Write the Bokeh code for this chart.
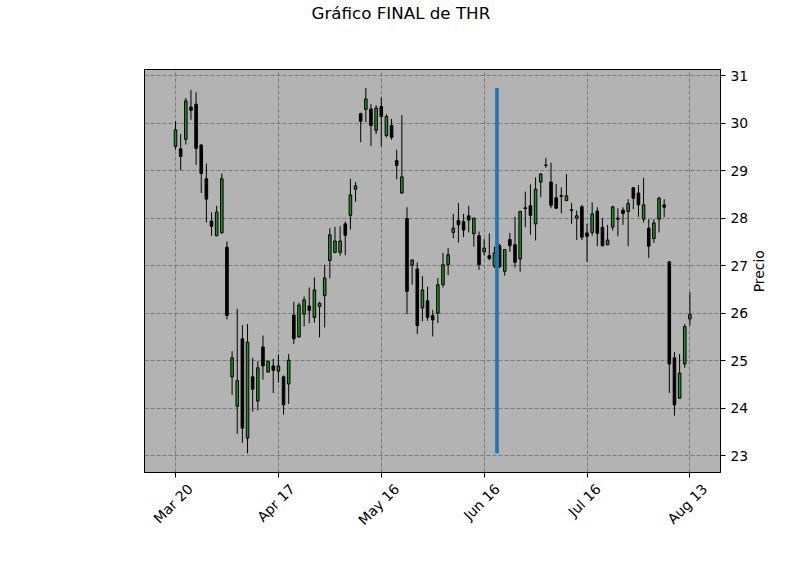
import numpy as np
import pandas as pd
from math import pi
from bokeh.plotting import figure
from bokeh.models import ColumnDataSource, FixedTicker, Range1d, LinearAxis, Title
from bokeh.embed import file_html
from bokeh.resources import INLINE

# ---- data (THR daily candles, 2025) ----
holidays = ["2025-04-18", "2025-05-26", "2025-06-19", "2025-07-04"]
dates = pd.bdate_range("2025-03-20", "2025-08-13", freq="C", holidays=holidays)

opens = [29.51, 29.46, 29.66, 30.34, 30.40, 29.54, 28.83, 27.94, 27.63, 27.69,
         27.39, 24.66, 24.04, 25.46, 23.37, 24.66, 24.15, 25.29, 24.76, 24.89,
         24.78, 24.66, 24.51, 25.96, 25.50, 25.98, 26.15, 25.91, 26.14, 26.37,
         27.11, 27.28, 27.28, 27.88, 28.06, 28.61, 30.20, 30.29, 30.30, 29.85,
         30.35, 29.74, 29.95, 29.21, 28.53, 27.99, 27.01, 26.93, 26.11, 26.26,
         25.95, 26.00, 26.60, 27.02, 27.70, 27.95, 27.93, 28.05, 27.67, 27.63,
         27.29, 27.21, 26.99, 27.42, 26.88, 27.55, 27.44, 27.14, 28.22, 28.26,
         27.88, 28.76, 29.12, 28.76, 28.43, 28.48, 28.37, 28.18, 28.00, 28.24,
         27.69, 27.70, 28.15, 27.81, 27.44, 27.81, 28.00, 28.17, 28.14, 28.64,
         28.53, 27.98, 27.79, 27.57, 27.98, 28.28, 27.08, 25.06, 24.21, 24.93,
         25.88]
highs = [30.04, 29.77, 30.53, 30.70, 30.65, 29.56, 29.15, 28.12, 28.26, 28.94,
         27.51, 25.20, 26.09, 25.75, 25.77, 25.06, 24.99, 25.53, 25.00, 25.04,
         25.13, 24.69, 25.14, 26.24, 26.22, 26.35, 26.54, 26.75, 26.24, 27.02,
         27.79, 27.82, 27.83, 27.93, 28.83, 28.76, 30.22, 30.74, 30.40, 30.38,
         30.54, 30.19, 30.09, 29.44, 30.17, 28.23, 27.13, 27.07, 26.78, 26.56,
         26.07, 26.74, 27.27, 27.37, 28.09, 28.32, 28.09, 28.26, 28.01, 27.72,
         27.56, 27.68, 27.40, 27.46, 27.35, 27.69, 28.03, 28.16, 28.56, 28.71,
         28.86, 28.95, 29.27, 29.17, 28.72, 28.65, 28.93, 28.32, 28.16, 28.28,
         27.88, 28.33, 28.23, 28.00, 27.86, 28.26, 28.21, 28.23, 28.40, 28.65,
         28.70, 28.85, 27.98, 27.98, 28.45, 28.40, 27.09, 25.18, 25.14, 25.77,
         26.44]
lows = [29.44, 29.01, 29.55, 30.07, 29.12, 28.53, 27.91, 27.63, 27.62, 27.68,
        25.87, 24.28, 23.46, 23.27, 23.05, 23.93, 23.95, 24.60, 24.75, 24.32,
        24.54, 23.86, 24.09, 25.35, 25.49, 25.72, 25.79, 25.80, 25.49, 25.70,
        26.73, 27.26, 27.21, 27.22, 27.76, 28.35, 29.60, 30.02, 29.52, 29.77,
        29.51, 29.70, 29.65, 28.82, 28.52, 25.98, 26.60, 25.56, 25.83, 25.84,
        25.51, 25.79, 26.54, 26.80, 27.58, 27.49, 27.60, 27.70, 27.40, 26.91,
        27.22, 27.11, 26.95, 26.95, 26.79, 27.29, 26.96, 26.87, 27.81, 27.65,
        27.53, 28.44, 29.06, 28.21, 28.20, 28.10, 28.36, 27.88, 27.54, 27.54,
        27.08, 27.63, 27.41, 27.41, 27.43, 27.74, 27.62, 27.86, 27.41, 28.19,
        28.03, 27.91, 27.16, 27.48, 27.70, 28.02, 24.32, 23.84, 24.20, 24.85,
        25.74]
closes = [29.86, 29.30, 30.47, 30.27, 29.47, 28.94, 28.40, 27.83, 28.13, 28.83,
          25.95, 25.06, 24.58, 23.58, 25.39, 24.40, 24.85, 24.89, 24.99, 24.80,
          24.89, 24.07, 25.01, 25.46, 26.17, 26.28, 26.06, 26.49, 26.21, 26.74,
          27.65, 27.52, 27.52, 27.64, 28.49, 28.68, 30.04, 30.51, 29.95, 30.32,
          30.14, 30.14, 29.70, 29.11, 28.87, 26.46, 27.12, 25.74, 26.49, 25.91,
          25.86, 26.60, 27.02, 27.23, 27.79, 27.86, 27.75, 27.96, 28.00, 27.02,
          27.37, 27.15, 27.27, 26.98, 27.34, 27.42, 27.07, 28.14, 28.20, 28.06,
          28.61, 28.93, 29.11, 28.27, 28.21, 28.46, 28.47, 28.16, 28.05, 27.60,
          27.62, 28.09, 27.68, 27.42, 27.54, 28.24, 27.98, 28.10, 28.31, 28.42,
          28.28, 28.28, 27.41, 27.90, 28.42, 28.23, 24.93, 24.07, 24.74, 25.72,
          25.97]

tick_positions = [0, 20, 40, 60, 80, 100]
y_ticks = [23, 24, 25, 26, 27, 28, 29, 30, 31]
vline_date = "2025-06-19"

title_text = "Gráfico FINAL de THR"
ylabel_text = "Precio"

# ---- layout constants ----
X0, X1 = -6.03, 105.95
Y0, Y1 = 22.646, 31.13
FRAME_W, FRAME_H = 576, 403
BORDER_L, BORDER_T, BORDER_R, BORDER_B = 144, 69, 72, 95
PX_X = FRAME_W / (X1 - X0)
PX_Y = FRAME_H / (Y1 - Y0)

# ---- derived ----
n = len(opens)
idx = np.arange(n)
o = np.array(opens); h = np.array(highs); l = np.array(lows); c = np.array(closes)
up = c >= o
UP_COLOR = "#1f8f1f"
DOWN_COLOR = "#000000"
src = ColumnDataSource(dict(
    x=idx, o=o, h=h, l=l, c=c,
    top=np.maximum(o, c), bottom=np.minimum(o, c),
    color=[UP_COLOR if u else DOWN_COLOR for u in up],
))

ordinals = np.array([d.toordinal() for d in dates])
vx = float(np.interp(pd.Timestamp(vline_date).toordinal(), ordinals, idx))
tick_labels = [dates[i].strftime("%b %d") for i in tick_positions]

FONT = "DejaVu Sans"
TICK_PX = 13.9

ADV = {'M': 1767, 'a': 1255, 'r': 842, ' ': 651, 'A': 1401, 'p': 1300, 'J': 604,
       'u': 1298, 'n': 1298, 'l': 569, 'g': 1300, 'y': 1212,
       'P': 1235, 'e': 1260, 'c': 1126, 'i': 569, 'o': 1253}
def text_w(s):
    return sum(ADV.get(ch, 1303) for ch in s) / 2048 * TICK_PX

p = figure(width=BORDER_L + FRAME_W + BORDER_R, height=BORDER_T + FRAME_H + BORDER_B,
           output_backend="svg", toolbar_location=None,
           x_range=Range1d(X0, X1), y_range=Range1d(Y0, Y1),
           y_axis_location="right",
           min_border_left=BORDER_L, min_border_top=BORDER_T,
           min_border_right=BORDER_R, min_border_bottom=BORDER_B)

p.background_fill_color = "#b3b3b3"
p.border_fill_color = "white"
p.outline_line_color = "black"
p.outline_line_width = 1
p.title.text = ""

# title near the top of the page (matplotlib suptitle): a blank spacer panel
# next to the frame pushes the real title up
p.add_layout(Title(text=" ", standoff=36, text_font=FONT, text_font_size="8px"), "above")
p.add_layout(Title(text=title_text, align="left", offset=167, vertical_align="bottom",
                   standoff=0, text_font=FONT, text_font_size="16.7px",
                   text_font_style="normal", text_color="black"), "above")

# grid
p.xgrid.ticker = FixedTicker(ticks=tick_positions)
p.ygrid.ticker = FixedTicker(ticks=y_ticks)
for g in (p.xgrid, p.ygrid):
    g.grid_line_color = "#7a7a7a"
    g.grid_line_dash = "4 2"
    g.grid_line_width = 1

# axes (main x axis only carries the tick marks)
p.xaxis.ticker = FixedTicker(ticks=tick_positions)
p.xaxis.major_label_overrides = {int(i): "" for i in tick_positions}
p.xaxis.major_label_standoff = 0
p.yaxis.ticker = FixedTicker(ticks=y_ticks)
for ax in (p.xaxis, p.yaxis):
    ax.axis_line_color = "black"
    ax.major_tick_line_color = "black"
    ax.major_tick_out = 5
    ax.major_tick_in = 0
    ax.minor_tick_line_color = None
    ax.major_label_text_font = FONT
    ax.major_label_text_font_size = f"{TICK_PX}px"
    ax.major_label_text_color = "black"
p.yaxis.major_label_standoff = 5

# y-axis title "Precio": written bottom-to-top, centred on the frame, drawn as
# the single rotated label of an outer right axis
y_mid = (Y0 + Y1) / 2
prec_tick = float(round(y_mid - (text_w(ylabel_text) / 2) / PX_Y, 4))
prec_axis = LinearAxis(ticker=FixedTicker(ticks=[prec_tick]))
prec_axis.major_label_overrides = {prec_tick: ylabel_text}
prec_axis.major_label_orientation = pi / 2
prec_axis.axis_line_color = None
prec_axis.major_tick_line_color = None
prec_axis.major_tick_out = 0
prec_axis.major_tick_in = 0
prec_axis.minor_tick_line_color = None
prec_axis.major_label_standoff = 8
prec_axis.major_label_text_font = FONT
prec_axis.major_label_text_font_size = f"{TICK_PX}px"
prec_axis.major_label_text_color = "black"
p.add_layout(prec_axis, "right")

# second x axis only for the rotated date labels, each label nudged so that
# its rotated box is centred under its tick (matplotlib style)
label_ticks = [float(round(pos + (0.3536 * text_w(lab) - 2.5) / PX_X, 4))
               for pos, lab in zip(tick_positions, tick_labels)]
lab_axis = LinearAxis(ticker=FixedTicker(ticks=label_ticks))
lab_axis.major_label_overrides = {t: lab for t, lab in zip(label_ticks, tick_labels)}
lab_axis.major_label_orientation = pi / 4
lab_axis.axis_line_color = None
lab_axis.major_tick_line_color = None
lab_axis.major_tick_out = 0
lab_axis.major_tick_in = 0
lab_axis.minor_tick_line_color = None
lab_axis.major_label_standoff = 9
lab_axis.major_label_text_font = FONT
lab_axis.major_label_text_font_size = f"{TICK_PX}px"
lab_axis.major_label_text_color = "black"
p.add_layout(lab_axis, "below")

# candles
p.segment(x0="x", y0="l", x1="x", y1="h", source=src, line_color="black", line_width=1)
p.vbar(x="x", top="top", bottom="bottom", width=0.5, source=src,
       fill_color="color", line_color="black", line_width=1)

# vertical marker line
p.segment(x0=[vx], y0=[float(l.min())], x1=[vx], y1=[float(h.max())],
          line_color="#1f77b4", line_width=3.7)

open("out.html", "w").write(file_html(p, INLINE))
